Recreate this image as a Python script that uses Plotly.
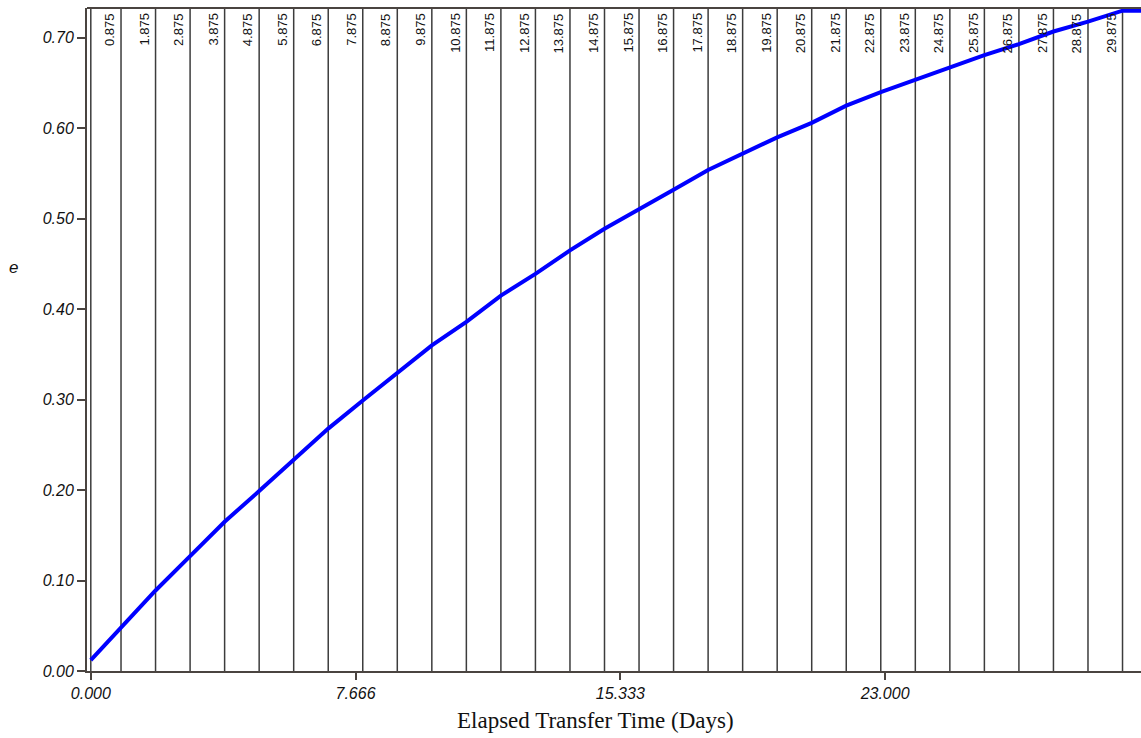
import plotly.graph_objects as go

# ---- data ----
days = [0.0, 0.875, 1.875, 2.875, 3.875, 4.875, 5.875, 6.875, 7.875, 8.875,
        9.875, 10.875, 11.875, 12.875, 13.875, 14.875, 15.875, 16.875, 17.875,
        18.875, 19.875, 20.875, 21.875, 22.875, 23.875, 24.875, 25.875, 26.875,
        27.875, 28.875, 29.875, 30.41]
e_values = [0.012, 0.048, 0.089, 0.127, 0.165, 0.199, 0.234, 0.268, 0.299, 0.330,
            0.360, 0.386, 0.415, 0.439, 0.465, 0.489, 0.510, 0.532, 0.554,
            0.572, 0.590, 0.606, 0.625, 0.640, 0.654, 0.668, 0.681, 0.693,
            0.707, 0.718, 0.730, 0.730]

marker_days = [0.875, 1.875, 2.875, 3.875, 4.875, 5.875, 6.875, 7.875, 8.875,
               9.875, 10.875, 11.875, 12.875, 13.875, 14.875, 15.875, 16.875,
               17.875, 18.875, 19.875, 20.875, 21.875, 22.875, 23.875, 24.875,
               25.875, 26.875, 27.875, 28.875, 29.875]
marker_labels = ["0.875", "1.875", "2.875", "3.875", "4.875", "5.875", "6.875",
                 "7.875", "8.875", "9.875", "10.875", "11.875", "12.875",
                 "13.875", "14.875", "15.875", "16.875", "17.875", "18.875",
                 "19.875", "20.875", "21.875", "22.875", "23.875", "24.875",
                 "25.875", "26.875", "27.875", "28.875", "29.875"]
start_line_day = [0.0]

x_tickvals = [0.0, 7.666, 15.333, 23.0]
x_ticktext = ["0.000", "7.666", "15.333", "23.000"]
y_tickvals = [0.0, 0.1, 0.2, 0.3, 0.4, 0.5, 0.6, 0.7]
y_ticktext = ["0.00", "0.10", "0.20", "0.30", "0.40", "0.50", "0.60", "0.70"]

AXIS_COLOR = "#4a4440"
LINE_COLOR = "#3c3c3c"
TICK_FONT = dict(family="Liberation Sans, Arial, sans-serif", size=16,
                 color="#111111", style="italic")

fig = go.Figure()
fig.add_trace(go.Scatter(
    x=days, y=e_values, mode="lines",
    line=dict(color="#0000ff", width=4),
    showlegend=False, hoverinfo="x+y",
))

shapes = []
for d in start_line_day + marker_days:
    shapes.append(dict(type="line", xref="x", yref="paper", x0=d, x1=d,
                       y0=0, y1=1, layer="below",
                       line=dict(color=LINE_COLOR, width=1.5)))
# top border
shapes.append(dict(type="line", xref="paper", yref="paper", x0=0, x1=1,
                   y0=1, y1=1, line=dict(color=AXIS_COLOR, width=2)))

annotations = []
for d, lab in zip(marker_days, marker_labels):
    annotations.append(dict(
        x=d, xref="x", y=1, yref="paper", text=lab, showarrow=False,
        textangle=-90, xanchor="right", yanchor="top", xshift=-2, yshift=-3,
        font=dict(family="Liberation Sans, Arial, sans-serif", size=13,
                  color="#111111"),
    ))
annotations.append(dict(
    x=-0.0702, xref="paper", y=0.608, yref="paper", text="e", showarrow=False,
    xanchor="center", yanchor="middle",
    font=dict(family="Liberation Sans, Arial, sans-serif", size=17,
              color="#111111", style="italic"),
))
annotations.append(dict(
    x=0.482, xref="paper", y=-0.074, yref="paper",
    text="Elapsed Transfer Time (Days)", showarrow=False,
    xanchor="center", yanchor="middle",
    font=dict(family="Liberation Serif, Times New Roman, serif", size=23,
              color="#111111"),
))

fig.update_layout(
    width=1141, height=738,
    margin=dict(l=87, r=0, t=8, b=67, pad=0),
    paper_bgcolor="white", plot_bgcolor="white",
    shapes=shapes, annotations=annotations,
    xaxis=dict(range=[-0.11, 30.41], tickmode="array", tickvals=x_tickvals,
               ticktext=x_ticktext, showgrid=False, zeroline=False,
               showline=True, linecolor=AXIS_COLOR, linewidth=2,
               ticks="outside", ticklen=7, tickcolor=AXIS_COLOR, tickwidth=1.5,
               tickfont=TICK_FONT, fixedrange=True),
    yaxis=dict(range=[0, 0.733], tickmode="array", tickvals=y_tickvals,
               ticktext=y_ticktext, showgrid=False, zeroline=False,
               showline=True, linecolor=AXIS_COLOR, linewidth=2,
               ticks="outside", ticklen=8, tickcolor=AXIS_COLOR, tickwidth=1.5,
               tickfont=TICK_FONT, fixedrange=True),
)

fig.write_html("out.html", config={"displayModeBar": False})
